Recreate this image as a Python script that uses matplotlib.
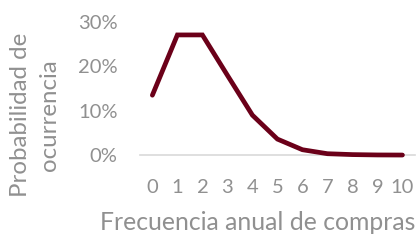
import matplotlib.pyplot as plt
from matplotlib.ticker import PercentFormatter

# data
compras = ['0', '1', '2', '3', '4', '5', '6', '7', '8', '9', '10']
probabilidad = [0.135, 0.271, 0.271, 0.180, 0.090, 0.036, 0.012, 0.003, 0.001, 0.0002, 0.0]
y_ticks = [0, 0.10, 0.20, 0.30]

gris = '#909090'
plt.rcParams['font.family'] = ['Lato', 'DejaVu Sans']

fig = plt.figure(figsize=(4.2, 2.4), dpi=100)
ax = fig.add_axes([0.333, 0.354, 0.655, 0.554])

x = range(len(compras))
ax.plot(x, probabilidad, color='#6b0019', linewidth=3.4, solid_capstyle='round',
        solid_joinstyle='miter', clip_on=False, zorder=3)

ax.set_xlim(-0.5, len(compras) - 0.5)
ax.set_ylim(0, 0.30)
ax.set_xticks(list(x))
ax.set_xticklabels(compras)
ax.set_yticks(y_ticks)
ax.yaxis.set_major_formatter(PercentFormatter(1.0, decimals=0))

for s in ['top', 'right', 'left']:
    ax.spines[s].set_visible(False)
ax.spines['bottom'].set_color('#d9d9d9')
ax.spines['bottom'].set_linewidth(1.2)

ax.tick_params(axis='both', length=0, colors=gris, labelsize=14.5)
ax.tick_params(axis='x', pad=17)
ax.tick_params(axis='y', pad=16)

# axis titles placed like the Excel original
fig.text(258 / 420, 1 - 222 / 240, 'Frecuencia anual de compras', color=gris,
         fontsize=17.8, ha='center', va='center')
fig.text(35 / 420, 1 - 115 / 240, 'Probabilidad de\nocurrencia', color=gris,
         fontsize=17.3, ha='center', va='center', rotation=90, linespacing=1.45)

fig.savefig('out.png', dpi=100)
